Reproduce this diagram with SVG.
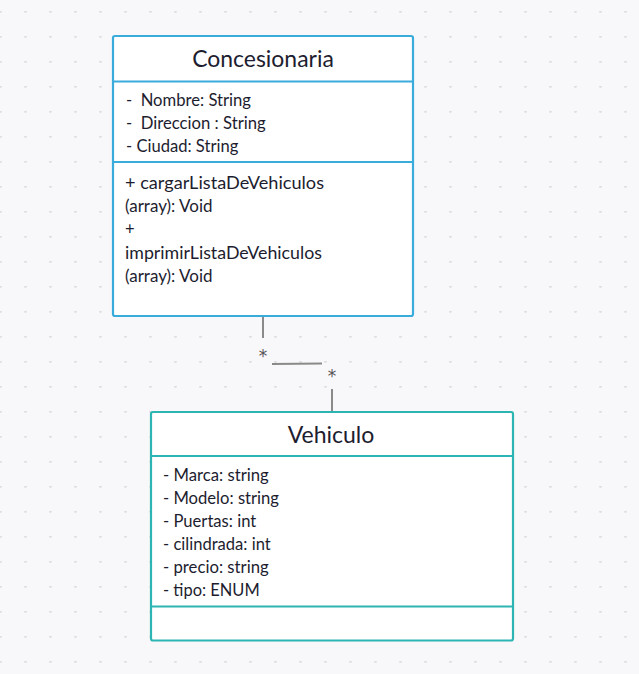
<svg xmlns="http://www.w3.org/2000/svg" width="639" height="674" viewBox="0 0 639 674">
<defs>
<pattern id="dots" x="0" y="11" width="25" height="25" patternUnits="userSpaceOnUse">
<circle cx="0.5" cy="0.5" r="1.4" fill="#dedee3"/>
<circle cx="25.5" cy="0.5" r="1.4" fill="#dedee3"/>
</pattern>
<style>
.t{font-family:Lato,"Open Sans",sans-serif;fill:#1d1d2f}
.title{font-size:23px;text-anchor:middle}
.m{font-size:16.6px}
.box1{fill:#fff;stroke:#3aacdc;stroke-width:2.2}
.box2{fill:#fff;stroke:#2cb5b3;stroke-width:2.2}
.conn{stroke:#8a8a8a;stroke-width:2;fill:none}
.star{font-family:"DejaVu Sans",sans-serif;font-size:17px;fill:#555;text-anchor:middle}
</style>
</defs>
<rect width="639" height="674" fill="#f8f8fa"/>
<rect width="639" height="674" fill="url(#dots)"/>
<g id="connectors">
<path class="conn" d="M263 316 V338"/>
<path class="conn" d="M272 364 L322 363.5"/>
<path class="conn" d="M332 389 V411"/>
<text class="star" x="263" y="362">*</text>
<text class="star" x="332" y="382">*</text>
</g>
<g id="concesionaria">
<rect class="box1" x="113" y="36" width="300" height="280" rx="2"/>
<path class="box1" d="M113 81.5 H413 M113 162 H413"/>
<text class="t title" x="263" y="67" textLength="141.7" lengthAdjust="spacingAndGlyphs">Concesionaria</text>
<text class="t m" x="126" y="106" xml:space="preserve" textLength="125" lengthAdjust="spacingAndGlyphs">-  Nombre: String</text>
<text class="t m" x="126" y="129" xml:space="preserve" textLength="139.7" lengthAdjust="spacingAndGlyphs">-  Direccion : String</text>
<text class="t m" x="126" y="151.5" textLength="112.3" lengthAdjust="spacingAndGlyphs">- Ciudad: String</text>
<text class="t m" x="125" y="188.5" textLength="199" lengthAdjust="spacingAndGlyphs">+ cargarListaDeVehiculos</text>
<text class="t m" x="125" y="211.5" textLength="87.5" lengthAdjust="spacingAndGlyphs">(array): Void</text>
<text class="t m" x="125" y="234.5">+</text>
<text class="t m" x="125" y="258.5" textLength="197" lengthAdjust="spacingAndGlyphs">imprimirListaDeVehiculos</text>
<text class="t m" x="125" y="281.5" textLength="87.5" lengthAdjust="spacingAndGlyphs">(array): Void</text>
</g>
<g id="vehiculo">
<rect class="box2" x="151" y="412" width="362" height="228.5" rx="2"/>
<path class="box2" d="M151 456 H513 M151 606.5 H513"/>
<text class="t title" x="331" y="442.5" textLength="86.7" lengthAdjust="spacingAndGlyphs">Vehiculo</text>
<text class="t m" x="163" y="481" textLength="105.7" lengthAdjust="spacingAndGlyphs">- Marca: string</text>
<text class="t m" x="163" y="504" textLength="116" lengthAdjust="spacingAndGlyphs">- Modelo: string</text>
<text class="t m" x="163" y="527" textLength="93.3" lengthAdjust="spacingAndGlyphs">- Puertas: int</text>
<text class="t m" x="163" y="550" textLength="107.7" lengthAdjust="spacingAndGlyphs">- cilindrada: int</text>
<text class="t m" x="163" y="573" textLength="105.7" lengthAdjust="spacingAndGlyphs">- precio: string</text>
<text class="t m" x="163" y="596" textLength="96.7" lengthAdjust="spacingAndGlyphs">- tipo: ENUM</text>
</g>
</svg>
